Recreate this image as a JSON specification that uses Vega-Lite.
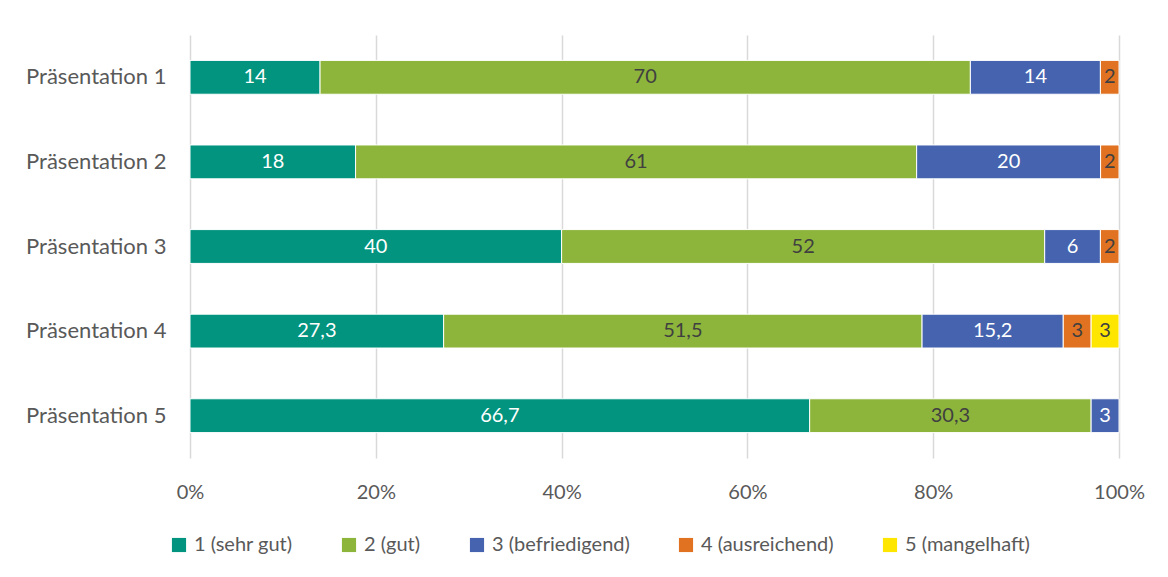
{
  "$schema": "https://vega.github.io/schema/vega-lite/v6.json",
  "width": 929,
  "height": 423,
  "autosize": {"type": "none"},
  "padding": {"left": 190, "top": 35, "right": 49, "bottom": 119},
  "background": "white",
  "config": {
    "locale": {"number": {"decimal": ",", "thousands": ".", "grouping": [3], "currency": ["", " €"]}},
    "view": {"stroke": null},
    "font": "Lato"
  },
  "data": {
    "values": [
      {"p": "Präsentation 1", "grade": "1 (sehr gut)", "o": 1, "v": 14},
      {"p": "Präsentation 1", "grade": "2 (gut)", "o": 2, "v": 70},
      {"p": "Präsentation 1", "grade": "3 (befriedigend)", "o": 3, "v": 14},
      {"p": "Präsentation 1", "grade": "4 (ausreichend)", "o": 4, "v": 2},
      {"p": "Präsentation 2", "grade": "1 (sehr gut)", "o": 1, "v": 18},
      {"p": "Präsentation 2", "grade": "2 (gut)", "o": 2, "v": 61},
      {"p": "Präsentation 2", "grade": "3 (befriedigend)", "o": 3, "v": 20},
      {"p": "Präsentation 2", "grade": "4 (ausreichend)", "o": 4, "v": 2},
      {"p": "Präsentation 3", "grade": "1 (sehr gut)", "o": 1, "v": 40},
      {"p": "Präsentation 3", "grade": "2 (gut)", "o": 2, "v": 52},
      {"p": "Präsentation 3", "grade": "3 (befriedigend)", "o": 3, "v": 6},
      {"p": "Präsentation 3", "grade": "4 (ausreichend)", "o": 4, "v": 2},
      {"p": "Präsentation 4", "grade": "1 (sehr gut)", "o": 1, "v": 27.3},
      {"p": "Präsentation 4", "grade": "2 (gut)", "o": 2, "v": 51.5},
      {"p": "Präsentation 4", "grade": "3 (befriedigend)", "o": 3, "v": 15.2},
      {"p": "Präsentation 4", "grade": "4 (ausreichend)", "o": 4, "v": 3},
      {"p": "Präsentation 4", "grade": "5 (mangelhaft)", "o": 5, "v": 3},
      {"p": "Präsentation 5", "grade": "1 (sehr gut)", "o": 1, "v": 66.7},
      {"p": "Präsentation 5", "grade": "2 (gut)", "o": 2, "v": 30.3},
      {"p": "Präsentation 5", "grade": "3 (befriedigend)", "o": 3, "v": 3}
    ]
  },
  "encoding": {
    "y": {
      "field": "p", "type": "nominal", "title": null,
      "scale": {"paddingInner": 0.6, "paddingOuter": 0.3},
      "axis": {"domain": false, "ticks": false, "labelFontSize": 22, "labelColor": "#595959", "labelPadding": 24}
    }
  },
  "layer": [
    {
      "mark": {"type": "bar", "stroke": "white", "strokeWidth": 1},
      "encoding": {
        "x": {
          "field": "v", "type": "quantitative", "stack": "normalize", "title": null,
          "scale": {"domain": [0, 1], "nice": false},
          "axis": {"format": ".0%", "values": [0, 0.2, 0.4, 0.6, 0.8, 1], "labelOverlap": false, "domain": false, "ticks": false, "grid": true, "gridColor": "#d9d9d9", "gridWidth": 1.5, "labelFontSize": 20, "labelColor": "#595959", "labelPadding": 24, "labelFlush": false}
        },
        "order": {"field": "o", "type": "quantitative"},
        "color": {
          "field": "grade", "type": "nominal", "title": null,
          "scale": {
            "domain": ["1 (sehr gut)", "2 (gut)", "3 (befriedigend)", "4 (ausreichend)", "5 (mangelhaft)"],
            "range": ["#02947E", "#8DB53C", "#4563AE", "#E07221", "#FFE600"]
          },
          "legend": {
            "orient": "none", "legendX": -21, "legendY": 500, "direction": "horizontal",
            "symbolType": "square", "symbolSize": 200, "symbolStrokeWidth": 0,
            "labelFontSize": 20, "labelColor": "#595959", "columnPadding": 46, "labelOffset": 5
          }
        }
      }
    },
    {
      "mark": {"type": "text", "fontSize": 20, "baseline": "middle", "align": "center"},
      "encoding": {
        "x": {"field": "v", "type": "quantitative", "stack": "normalize", "bandPosition": 0.5},
        "order": {"field": "o", "type": "quantitative"},
        "text": {"field": "v", "type": "quantitative", "format": ".1~f"},
        "color": {
          "condition": {"test": "datum.o == 1 || datum.o == 3", "value": "white"},
          "value": "#404040"
        }
      }
    }
  ]
}
